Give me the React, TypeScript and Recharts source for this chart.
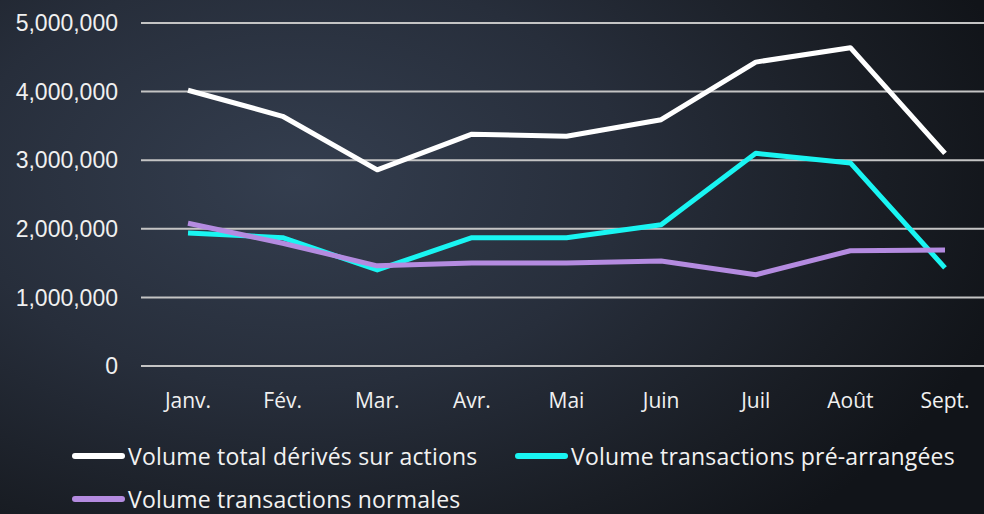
import { CartesianGrid, Line, LineChart, XAxis, YAxis } from 'recharts';

const months = ['Janv.', 'Fév.', 'Mar.', 'Avr.', 'Mai', 'Juin', 'Juil', 'Août', 'Sept.'];
const totalVolume = [4020000, 3640000, 2860000, 3380000, 3350000, 3590000, 4430000, 4640000, 3100000];
const preArranged = [1940000, 1870000, 1400000, 1870000, 1870000, 2060000, 3100000, 2960000, 1430000];
const normalVolume = [2080000, 1790000, 1460000, 1500000, 1500000, 1530000, 1330000, 1680000, 1690000];
const yTicks = [0, 1000000, 2000000, 3000000, 4000000, 5000000];

const series = [
  { key: 'total', name: 'Volume total dérivés sur actions', color: '#ffffff' },
  { key: 'pre', name: 'Volume transactions pré-arrangées', color: '#19f5f2' },
  { key: 'normal', name: 'Volume transactions normales', color: '#b48be0' },
];

const data = months.map((label, i) => ({
  label,
  total: totalVolume[i],
  pre: preArranged[i],
  normal: normalVolume[i],
}));

const fmt = (v: number) => v.toLocaleString('en-US');

function LegendItem({ name, color, left, top }: { name: string; color: string; left: number; top: number }) {
  return (
    <div style={{ position: 'absolute', left, top, display: 'flex', alignItems: 'center' }}>
      <div style={{ width: 53, height: 6, borderRadius: 3, background: color, marginRight: 3 }} />
      <span
        style={{
          color: '#f2f2f2',
          fontFamily: '"Open Sans", sans-serif',
          fontSize: 23,
          lineHeight: '28px',
          letterSpacing: 0.2,
          whiteSpace: 'nowrap',
        }}
      >
        {name}
      </span>
    </div>
  );
}

export default function App() {
  return (
    <div
      style={{
        position: 'absolute',
        left: 0,
        top: 0,
        width: 984,
        height: 514,
        overflow: 'hidden',
        background: 'radial-gradient(ellipse 75% 90% at 30% 35%, #343e4f 0%, #272e3b 45%, #191d24 80%, #111419 100%)',
      }}
    >
      <LineChart width={992} height={514} data={data} margin={{ top: 23, right: 0, left: 0, bottom: 108 }}>
        <CartesianGrid vertical={false} stroke="#c4c4c4" strokeWidth={2} />
        <XAxis
          dataKey="label"
          height={40}
          padding={{ left: 47, right: 47 }}
          axisLine={false}
          tickLine={false}
          tickSize={0}
          tickMargin={27}
          tick={{ fill: '#f0f0f0', fontSize: 21, fontFamily: '"Open Sans", sans-serif' }}
        />
        <YAxis
          width={141}
          domain={[0, 5000000]}
          ticks={yTicks}
          tickFormatter={fmt}
          axisLine={false}
          tickLine={false}
          tickSize={0}
          tickMargin={23}
          tick={{ fill: '#f0f0f0', fontSize: 23, fontFamily: '"Liberation Sans", Arial, sans-serif' }}
        />
        {series.map((s) => (
          <Line
            key={s.key}
            dataKey={s.key}
            name={s.name}
            type="linear"
            stroke={s.color}
            strokeWidth={5}
            strokeLinejoin="round"
            dot={false}
            isAnimationActive={false}
          />
        ))}
      </LineChart>
      <LegendItem name={series[0].name} color={series[0].color} left={72} top={442} />
      <LegendItem name={series[1].name} color={series[1].color} left={515} top={442} />
      <LegendItem name={series[2].name} color={series[2].color} left={72} top={485} />
    </div>
  );
}
